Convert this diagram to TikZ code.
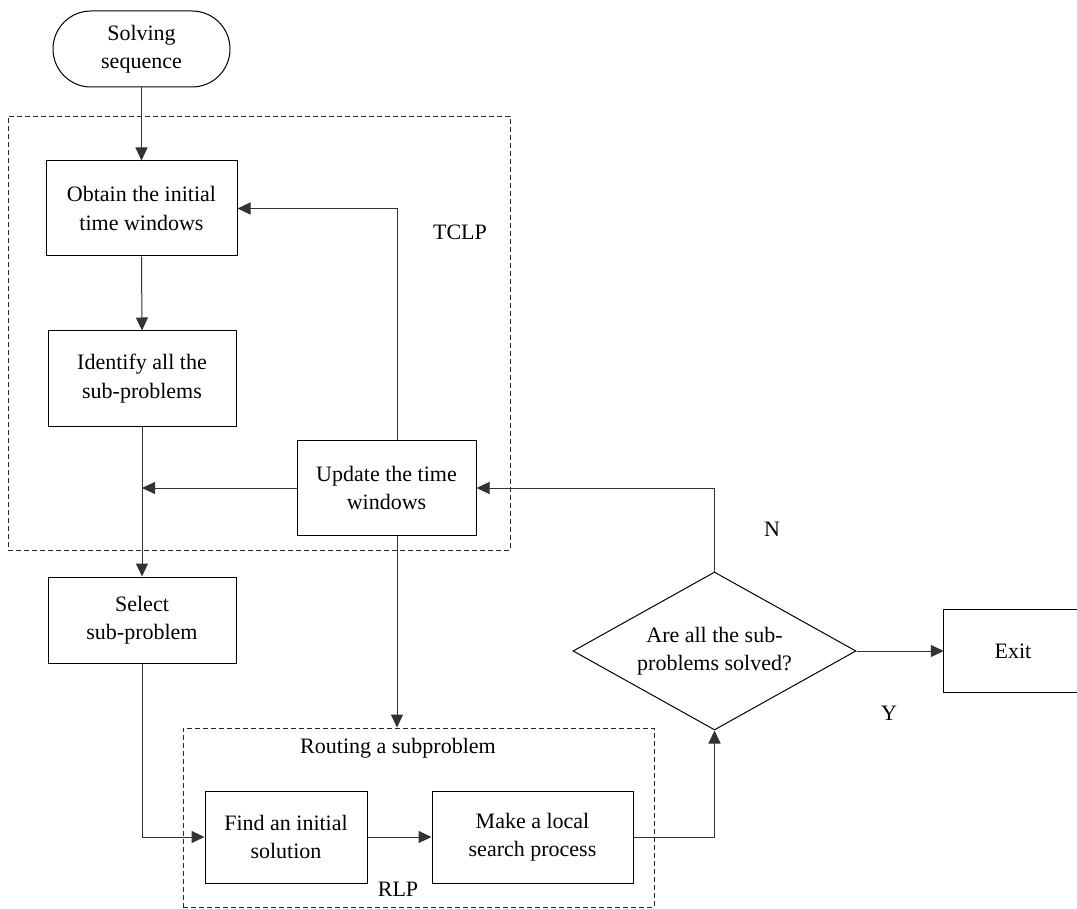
\documentclass[tikz,border=0pt]{standalone}
\usepackage{fontspec}
\setmainfont{Liberation Serif}
\usetikzlibrary{arrows.meta,shapes.geometric}
\begin{document}
\begin{tikzpicture}[x=1pt,y=-1pt,
  font=\fontsize{22}{28.5}\selectfont,
  box/.style={draw,line width=1pt,align=center,inner sep=0pt},
  conn/.style={line width=1pt,draw=black!80},
  arr/.style={conn,-{Triangle[length=13pt,width=12pt]}},
  dashbox/.style={draw,line width=0.9pt,dash pattern=on 5pt off 3pt,draw=black!85,inner sep=0pt}]
\useasboundingbox[fill=white] (0,0) rectangle (1077,909);
% containers
\node[dashbox,minimum width=502pt,minimum height=434pt] (tclp) at (259,333) {};
\node[dashbox,minimum width=471pt,minimum height=179pt] (rout) at (418.5,817.5) {};
% nodes
\node[box,rounded corners=38pt,minimum width=177pt,minimum height=76pt] (term) at (141.5,49) {Solving\\sequence};
\node[box,minimum width=191pt,minimum height=95pt] (obtain) at (141.5,208.5) {Obtain the initial\\time windows};
\node[box,minimum width=188pt,minimum height=95pt] (ident) at (142,378.5) {Identify all the\\sub-problems};
\node[box,minimum width=179pt,minimum height=95pt] (update) at (386.5,488) {Update the time\\windows};
\node[box,minimum width=188pt,minimum height=86pt] (select) at (142,620) {Select\\sub-problem};
\node[box,minimum width=162pt,minimum height=92pt] (find) at (286,837) {Find an initial\\solution};
\node[box,minimum width=201pt,minimum height=92pt] (make) at (532.5,837) {Make a local\\search process};
\node[draw,line width=1pt,diamond,inner sep=0pt,minimum width=283pt,minimum height=158pt] (dec) at (714.5,651) {};
\node[align=center] (dectext) at (dec.center) {Are all the sub-\\problems solved?};
\node[align=center,inner sep=0pt,minimum width=138pt,minimum height=82pt] (exit) at (1013,651) {Exit};
\draw[line width=1pt] ([xshift=20pt]exit.north east) -- (exit.north west) -- (exit.south west) -- ([xshift=20pt]exit.south east);
% labels
\node (ltclp) at (460,232) {TCLP};
\node (lrout) at (398,748) {Routing a subproblem};
\node (lrlp) at (398,889) {RLP};
\node (ln) at (772,529) {N};
\node (ly) at (889,713) {Y};
% connectors
\draw[arr] (term.south) -- (obtain.north);
\draw[arr] (obtain.south) -- (ident.north);
\draw[arr] (ident.south) -- (select.north);
\draw[arr] (update.west) -- (ident.south |- update.west);
\draw[arr] ([xshift=10.5pt]update.north) |- (obtain.east);
\draw[arr] ([xshift=10.5pt]update.south) -- ([xshift=10.5pt]update.south |- rout.north);
\draw[arr] (select.south) |- (find.west);
\draw[arr] (find.east) -- (make.west);
\draw[arr] (make.east) -| (dec.south);
\draw[arr] (dec.north) |- (update.east);
\draw[arr] (dec.east) -- (exit.west);
\end{tikzpicture}
\end{document}
